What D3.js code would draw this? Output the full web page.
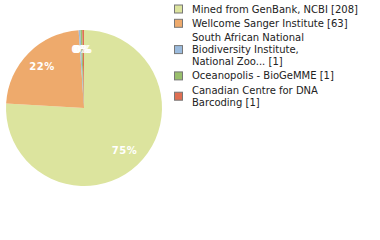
<!DOCTYPE html>
<html>
<head>
  <meta charset="utf-8">
  <style>
    html, body {
      margin: 0;
      padding: 0;
      background: #fff;
      width: 380px;
      height: 240px;
      overflow: hidden;
    }
    svg { display: block; }
    .lbl {
      font-family: "DejaVu Sans", sans-serif;
      font-size: 10px;
      fill: #fff;
      font-weight: bold;
      letter-spacing: 0.6px;
    }
    .leg {
      font-family: "DejaVu Sans", sans-serif;
      font-size: 10px;
      fill: #222;
    }
  </style>
</head>
<body>
  <svg width="380" height="240"></svg>

  <script src="https://d3js.org/d3.v7.min.js"></script>
  <script>
    const names = [
      "Mined from GenBank, NCBI",
      "Wellcome Sanger Institute",
      "South African National Biodiversity Institute, National Zoo...",
      "Oceanopolis - BioGeMME",
      "Canadian Centre for DNA Barcoding"
    ];
    const counts = [208, 63, 1, 1, 1];
    const pctLabels = ["75%", "22%", "0%", "0%", "0%"];
    const colors = ["#dce49e", "#eeaa6c", "#9bbbdd", "#99bf6c", "#df6f52"];
    // legend lines, as wrapped in the original
    const legendLines = [
      ["Mined from GenBank, NCBI [208]"],
      ["Wellcome Sanger Institute [63]"],
      ["South African National", "Biodiversity Institute,", "National Zoo... [1]"],
      ["Oceanopolis - BioGeMME [1]"],
      ["Canadian Centre for DNA", "Barcoding [1]"]
    ];

    const svg = d3.select("svg");
    const cx = 84, cy = 108, r = 78;

    const pie = d3.pie().sort(null).value(d => d)(counts);
    const arc = d3.arc().innerRadius(0).outerRadius(r);
    const labelArc = d3.arc().innerRadius(59).outerRadius(59);

    const g = svg.append("g").attr("transform", `translate(${cx},${cy})`);

    g.selectAll("path")
      .data(pie)
      .join("path")
      .attr("d", arc)
      .attr("fill", (d, i) => colors[i]);

    g.selectAll("text")
      .data(pie)
      .join("text")
      .attr("class", "lbl")
      .attr("transform", d => `translate(${labelArc.centroid(d)})`)
      .attr("text-anchor", "middle")
      .attr("dy", "0.35em")
      .text((d, i) => pctLabels[i]);

    // legend
    const lineH = 12, gap = 2.3;
    let y = 3;
    const leg = svg.append("g");
    legendLines.forEach((lines, i) => {
      const h = lines.length * lineH;
      const mid = y + h / 2;
      leg.append("rect")
        .attr("x", 174.5).attr("y", mid - 4)
        .attr("width", 8).attr("height", 8)
        .attr("fill", colors[i])
        .attr("stroke", "#777")
        .attr("stroke-width", 1);
      lines.forEach((t, j) => {
        leg.append("text")
          .attr("class", "leg")
          .attr("x", 192)
          .attr("y", y + j * lineH + lineH / 2)
          .attr("dy", "0.35em")
          .text(t);
      });
      y += h + gap;
    });
  </script>
</body>
</html>
